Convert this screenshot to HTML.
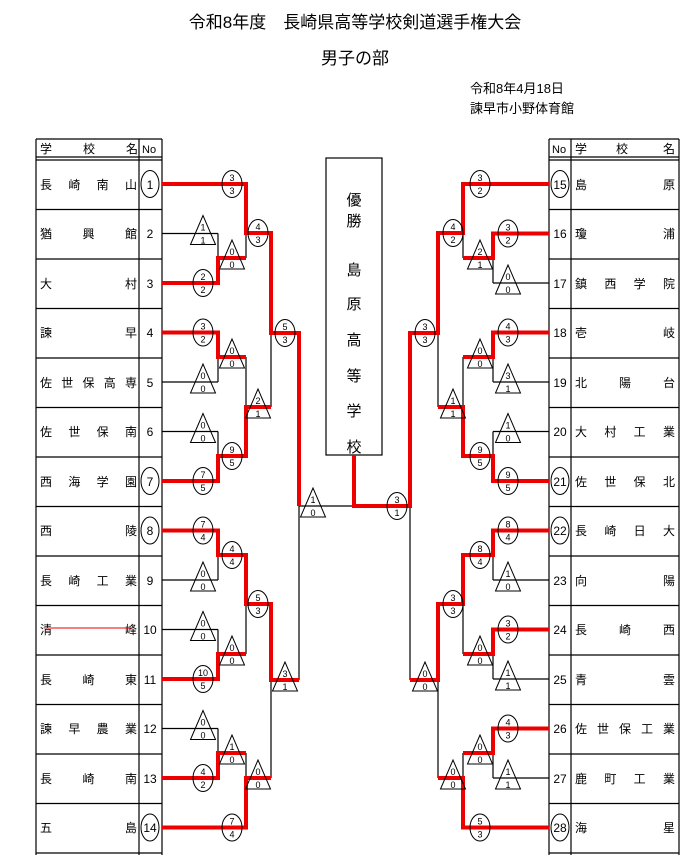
<!DOCTYPE html>
<html><head><meta charset="utf-8"><style>
html,body{margin:0;padding:0;background:#fff;}
svg{display:block;font-family:"Liberation Sans","Noto Sans CJK JP",sans-serif;}
.n{font-size:12px;}
.s{font-size:9px;text-anchor:middle;}
.k{stroke:#000;stroke-width:1.2;fill:none;}
.r{stroke:#e00;stroke-width:4;fill:none;}
.m{stroke:#000;stroke-width:1;fill:none;}
</style></head><body>
<svg width="698" height="866" viewBox="0 0 698 866" xmlns="http://www.w3.org/2000/svg">
<text x="355" y="28" font-size="17" text-anchor="middle">令和8年度　長崎県高等学校剣道選手権大会</text>
<text x="355" y="64" font-size="17" text-anchor="middle">男子の部</text>
<text x="470" y="93" font-size="13">令和8年4月18日</text>
<text x="470" y="113" font-size="13">諫早市小野体育館</text>

<g class="k">
<path d="M36 139H162M36 157H162M36 160H162M36 139V855M139 139V855M162 139V855"/>
<path d="M36 209.5H162M36 259H162M36 308.5H162M36 358H162M36 407.5H162M36 457H162M36 506.5H162M36 556H162M36 605.5H162M36 655H162M36 704.5H162M36 754H162M36 803.5H162M36 853H162"/>
</g>
<g class="k">
<path d="M549 139H679M549 157H679M549 160H679M549 139V855M571 139V855M679 139V855"/>
<path d="M549 209.5H679M549 259H679M549 308.5H679M549 358H679M549 407.5H679M549 457H679M549 506.5H679M549 556H679M549 605.5H679M549 655H679M549 704.5H679M549 754H679M549 803.5H679M549 853H679"/>
</g>
<g font-size="12">
<text x="40" y="153">学</text><text x="83" y="153">校</text><text x="126" y="153">名</text><text x="142" y="153" font-size="11">No</text>
<text x="552" y="153" font-size="11">No</text><text x="575" y="153">学</text><text x="616" y="153">校</text><text x="663" y="153">名</text>
</g>
<g class="n" lengthAdjust="spacing">
<text x="40" y="189" textLength="97">長崎南山</text>
<text x="40" y="238" textLength="97">猶興館</text>
<text x="40" y="288" textLength="97">大村</text>
<text x="40" y="337" textLength="97">諫早</text>
<text x="40" y="387" textLength="97">佐世保高専</text>
<text x="40" y="436" textLength="97">佐世保南</text>
<text x="40" y="486" textLength="97">西海学園</text>
<text x="40" y="535" textLength="97">西陵</text>
<text x="40" y="585" textLength="97">長崎工業</text>
<text x="40" y="634" textLength="97">清峰</text>
<text x="40" y="684" textLength="97">長崎東</text>
<text x="40" y="733" textLength="97">諫早農業</text>
<text x="40" y="783" textLength="97">長崎南</text>
<text x="40" y="832" textLength="97">五島</text>
<text x="575" y="189" textLength="100">島原</text>
<text x="575" y="238" textLength="100">瓊浦</text>
<text x="575" y="288" textLength="100">鎮西学院</text>
<text x="575" y="337" textLength="100">壱岐</text>
<text x="575" y="387" textLength="100">北陽台</text>
<text x="575" y="436" textLength="100">大村工業</text>
<text x="575" y="486" textLength="100">佐世保北</text>
<text x="575" y="535" textLength="100">長崎日大</text>
<text x="575" y="585" textLength="100">向陽</text>
<text x="575" y="634" textLength="100">長崎西</text>
<text x="575" y="684" textLength="100">青雲</text>
<text x="575" y="733" textLength="100">佐世保工業</text>
<text x="575" y="783" textLength="100">鹿町工業</text>
<text x="575" y="832" textLength="100">海星</text>
</g>
<line x1="45" y1="628" x2="132" y2="628" stroke="#e00" stroke-width="1"/>
<g class="n" text-anchor="middle">
<text x="150" y="189">1</text><text x="150" y="238">2</text><text x="150" y="288">3</text><text x="150" y="337">4</text><text x="150" y="387">5</text><text x="150" y="436">6</text><text x="150" y="486">7</text><text x="150" y="535">8</text><text x="150" y="585">9</text><text x="150" y="634">10</text><text x="150" y="684">11</text><text x="150" y="733">12</text><text x="150" y="783">13</text><text x="150" y="832">14</text>
<text x="560" y="189">15</text><text x="560" y="238">16</text><text x="560" y="288">17</text><text x="560" y="337">18</text><text x="560" y="387">19</text><text x="560" y="436">20</text><text x="560" y="486">21</text><text x="560" y="535">22</text><text x="560" y="585">23</text><text x="560" y="634">24</text><text x="560" y="684">25</text><text x="560" y="733">26</text><text x="560" y="783">27</text><text x="560" y="832">28</text>
</g>
<g class="m">
<ellipse cx="150" cy="184" rx="9" ry="13.5"/><ellipse cx="150" cy="481" rx="9" ry="13.5"/><ellipse cx="150" cy="530.5" rx="9" ry="13.5"/><ellipse cx="150" cy="827.5" rx="9" ry="13.5"/>
<ellipse cx="560" cy="184" rx="9" ry="13.5"/><ellipse cx="560" cy="481" rx="9" ry="13.5"/><ellipse cx="560" cy="530.5" rx="9" ry="13.5"/><ellipse cx="560" cy="827.5" rx="9" ry="13.5"/>
</g>

<rect x="326" y="158" width="56" height="297" class="k"/>
<g font-size="15" text-anchor="middle">
<text x="354" y="205">優</text><text x="354" y="226">勝</text>
<text x="354" y="275">島</text><text x="354" y="309">原</text><text x="354" y="345">高</text><text x="354" y="381">等</text><text x="354" y="416">学</text><text x="354" y="452">校</text>
</g>

<g class="k">
<path d="M162 233.5H218M162 382H218M162 431.5H218M162 580H218M162 629.5H218M162 728.5H218"/>
<path d="M218 233.5V283M218 332.5V382M218 431.5V481M218 530.5V580M218 629.5V679M218 728.5V778"/>
<path d="M246 184V258M246 357V456M246 555V654M246 753V828"/>
<path d="M271 233V407M271 604V778M299 333V680M299 506H410"/>
<path d="M549 283H493M549 382H493M549 431.5H493M549 580H493M549 679H493M549 778H493"/>
<path d="M493 233.5V283M493 332.5V382M493 431.5V481M493 530.5V580M493 629.5V679M493 728.5V778"/>
<path d="M463 184V258M463 357V456M463 555V654M463 753V828"/>
<path d="M438 233V407M438 604V778M410 333V680"/>
</g>
<g class="r">
<path d="M162 184H246V233H271V333H299V506"/>
<path d="M162 283H218V258H246"/>
<path d="M162 332.5H218V357H246"/>
<path d="M162 481H218V456H246V407H271"/>
<path d="M162 530.5H218V555H246V604H271V680H299"/>
<path d="M162 679H218V654H246"/>
<path d="M162 778H218V753H246"/>
<path d="M162 827.5H246V778H271"/>
<path d="M354 455V506H410V333H438V233H463V184H549"/>
<path d="M549 233.5H493V258H463"/>
<path d="M549 332.5H493V357H463"/>
<path d="M549 481H493V456H463V407H438"/>
<path d="M549 530.5H493V555H463V604H438V680H410"/>
<path d="M549 629.5H493V654H463"/>
<path d="M549 728.5H493V753H463"/>
<path d="M549 827.5H463V778H438"/>
</g>

<defs>
<ellipse id="C" cx="0" cy="0" rx="10" ry="13.5" class="m"/>
<polygon id="T" points="0,-18 -12.5,11 12.5,11" class="m"/>
</defs>
<g class="s">
<g transform="translate(232,184)"><use href="#C"/><text y="-3">3</text><text y="10">3</text></g>
<g transform="translate(203,233.5)"><use href="#T"/><text y="-3">1</text><text y="10">1</text></g>
<g transform="translate(203,283)"><use href="#C"/><text y="-3">2</text><text y="10">2</text></g>
<g transform="translate(232,258)"><use href="#T"/><text y="-3">0</text><text y="10">0</text></g>
<g transform="translate(258,233)"><use href="#C"/><text y="-3">4</text><text y="10">3</text></g>
<g transform="translate(203,332.5)"><use href="#C"/><text y="-3">3</text><text y="10">2</text></g>
<g transform="translate(203,382)"><use href="#T"/><text y="-3">0</text><text y="10">0</text></g>
<g transform="translate(232,357)"><use href="#T"/><text y="-3">0</text><text y="10">0</text></g>
<g transform="translate(203,431.5)"><use href="#T"/><text y="-3">0</text><text y="10">0</text></g>
<g transform="translate(203,481)"><use href="#C"/><text y="-3">7</text><text y="10">5</text></g>
<g transform="translate(232,456)"><use href="#C"/><text y="-3">9</text><text y="10">5</text></g>
<g transform="translate(258,407)"><use href="#T"/><text y="-3">2</text><text y="10">1</text></g>
<g transform="translate(285,333)"><use href="#C"/><text y="-3">5</text><text y="10">3</text></g>
<g transform="translate(313,506)"><use href="#T"/><text y="-3">1</text><text y="10">0</text></g>
<g transform="translate(203,530.5)"><use href="#C"/><text y="-3">7</text><text y="10">4</text></g>
<g transform="translate(203,580)"><use href="#T"/><text y="-3">0</text><text y="10">0</text></g>
<g transform="translate(232,555)"><use href="#C"/><text y="-3">4</text><text y="10">4</text></g>
<g transform="translate(203,629.5)"><use href="#T"/><text y="-3">0</text><text y="10">0</text></g>
<g transform="translate(203,679)"><use href="#C"/><text y="-3">10</text><text y="10">5</text></g>
<g transform="translate(232,654)"><use href="#T"/><text y="-3">0</text><text y="10">0</text></g>
<g transform="translate(258,604)"><use href="#C"/><text y="-3">5</text><text y="10">3</text></g>
<g transform="translate(203,728.5)"><use href="#T"/><text y="-3">0</text><text y="10">0</text></g>
<g transform="translate(203,778)"><use href="#C"/><text y="-3">4</text><text y="10">2</text></g>
<g transform="translate(232,753)"><use href="#T"/><text y="-3">1</text><text y="10">0</text></g>
<g transform="translate(232,827.5)"><use href="#C"/><text y="-3">7</text><text y="10">4</text></g>
<g transform="translate(258,778)"><use href="#T"/><text y="-3">0</text><text y="10">0</text></g>
<g transform="translate(285,680)"><use href="#T"/><text y="-3">3</text><text y="10">1</text></g>

<g transform="translate(480,184)"><use href="#C"/><text y="-3">3</text><text y="10">2</text></g>
<g transform="translate(508,233.5)"><use href="#C"/><text y="-3">3</text><text y="10">2</text></g>
<g transform="translate(508,283)"><use href="#T"/><text y="-3">0</text><text y="10">0</text></g>
<g transform="translate(480,258)"><use href="#T"/><text y="-3">2</text><text y="10">1</text></g>
<g transform="translate(453,233)"><use href="#C"/><text y="-3">4</text><text y="10">2</text></g>
<g transform="translate(508,332.5)"><use href="#C"/><text y="-3">4</text><text y="10">3</text></g>
<g transform="translate(508,382)"><use href="#T"/><text y="-3">3</text><text y="10">1</text></g>
<g transform="translate(480,357)"><use href="#T"/><text y="-3">0</text><text y="10">0</text></g>
<g transform="translate(508,431.5)"><use href="#T"/><text y="-3">1</text><text y="10">0</text></g>
<g transform="translate(508,481)"><use href="#C"/><text y="-3">9</text><text y="10">5</text></g>
<g transform="translate(480,456)"><use href="#C"/><text y="-3">9</text><text y="10">5</text></g>
<g transform="translate(453,407)"><use href="#T"/><text y="-3">1</text><text y="10">1</text></g>
<g transform="translate(425,333)"><use href="#C"/><text y="-3">3</text><text y="10">3</text></g>
<g transform="translate(397,506)"><use href="#C"/><text y="-3">3</text><text y="10">1</text></g>
<g transform="translate(508,530.5)"><use href="#C"/><text y="-3">8</text><text y="10">4</text></g>
<g transform="translate(508,580)"><use href="#T"/><text y="-3">1</text><text y="10">0</text></g>
<g transform="translate(480,555)"><use href="#C"/><text y="-3">8</text><text y="10">4</text></g>
<g transform="translate(508,629.5)"><use href="#C"/><text y="-3">3</text><text y="10">2</text></g>
<g transform="translate(508,679)"><use href="#T"/><text y="-3">1</text><text y="10">1</text></g>
<g transform="translate(480,654)"><use href="#T"/><text y="-3">0</text><text y="10">0</text></g>
<g transform="translate(453,604)"><use href="#C"/><text y="-3">3</text><text y="10">3</text></g>
<g transform="translate(508,728.5)"><use href="#C"/><text y="-3">4</text><text y="10">3</text></g>
<g transform="translate(508,778)"><use href="#T"/><text y="-3">1</text><text y="10">1</text></g>
<g transform="translate(480,753)"><use href="#T"/><text y="-3">0</text><text y="10">0</text></g>
<g transform="translate(480,827.5)"><use href="#C"/><text y="-3">5</text><text y="10">3</text></g>
<g transform="translate(453,778)"><use href="#T"/><text y="-3">0</text><text y="10">0</text></g>
<g transform="translate(425,680)"><use href="#T"/><text y="-3">0</text><text y="10">0</text></g>
</g>
</svg>
</body></html>
